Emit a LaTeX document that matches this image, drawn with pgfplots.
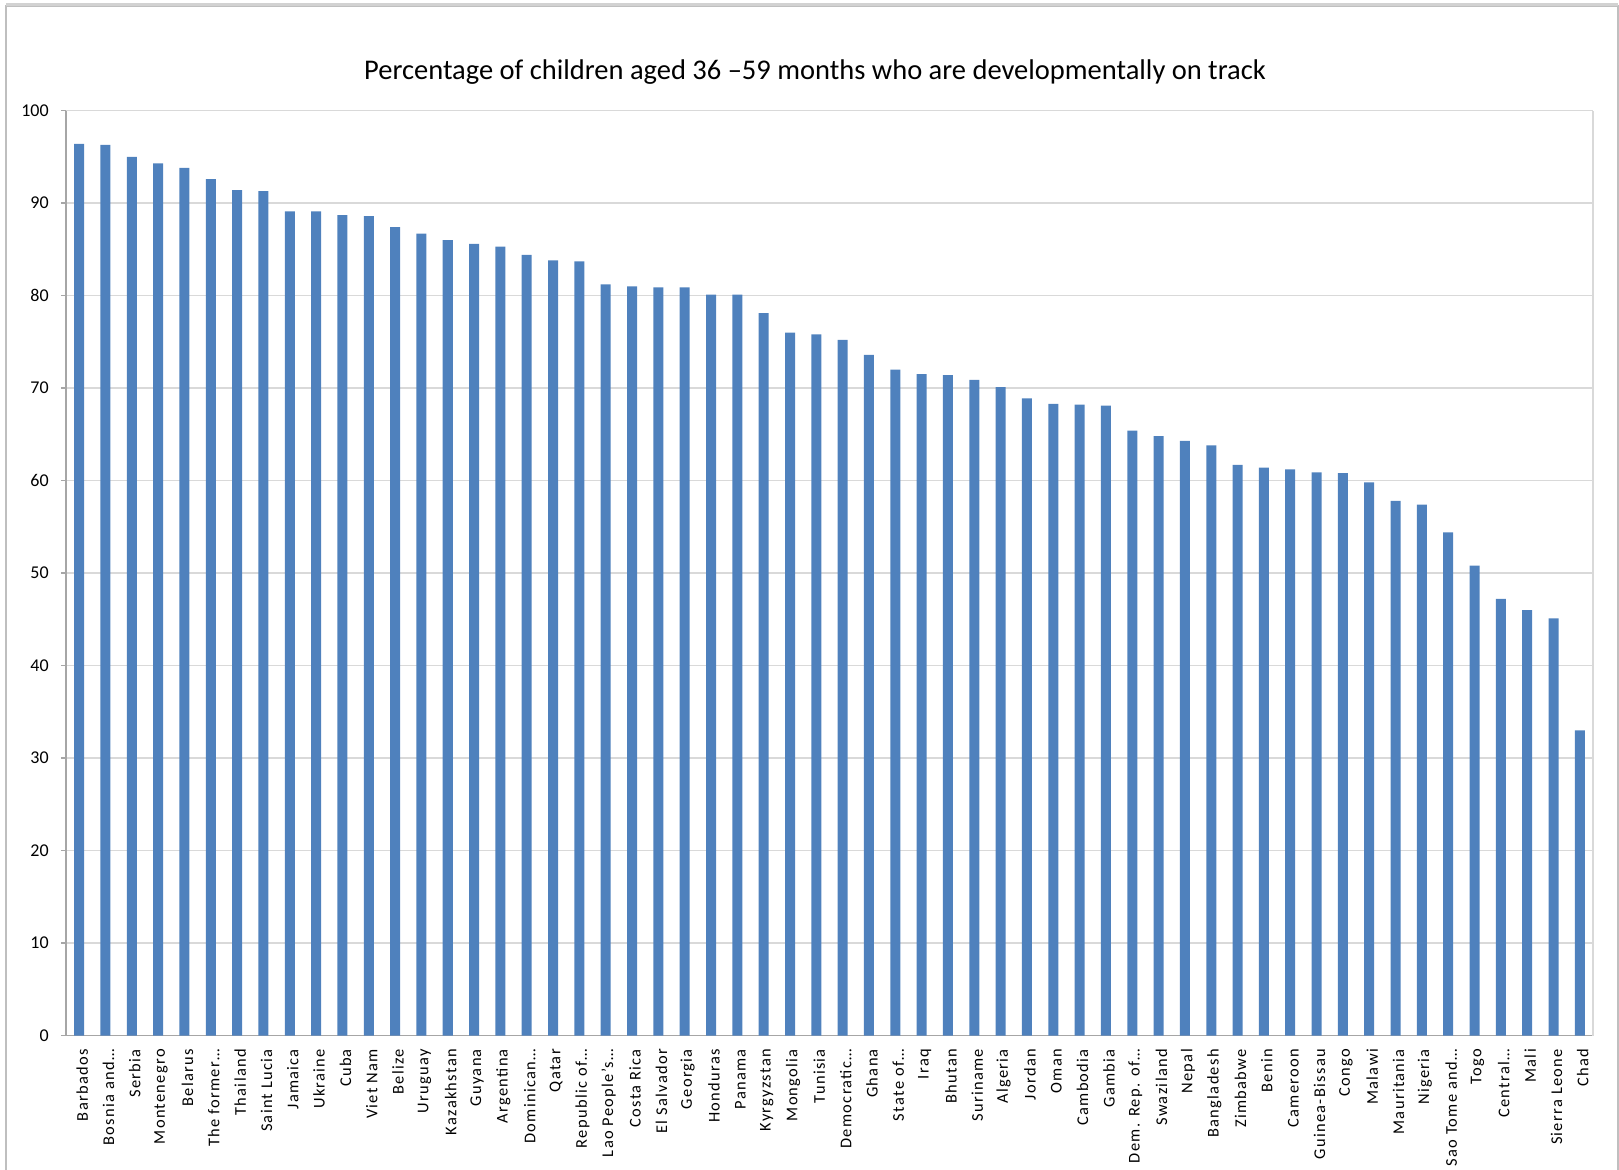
\documentclass[border=0pt]{standalone}
\usepackage{pgfplots}
\pgfplotsset{compat=1.18}
\usepackage{fontspec}
\setmainfont{Carlito}
\newfontfamily\catfont{Carlito}[LetterSpace=8]
\definecolor{barblue}{HTML}{4F81BD}
\definecolor{gridgray}{HTML}{D9D9D9}
\definecolor{axisgray}{HTML}{A6A6A6}
\definecolor{framegray}{HTML}{BFBFBF}
\begin{document}
\begin{tikzpicture}
\begin{scope}[x=0.5pt,y=0.5pt]
\useasboundingbox (0,0) rectangle (1619,1170);
\draw[framegray, line width=0.6pt] (6,-20) -- (6,1164) -- (1618,1164) -- (1618,-20);
\draw[gray!35, line width=1.2pt] (6,1165.5) -- (1618,1165.5);
\node[font=\fontsize{14.25}{16}\selectfont, anchor=base] at (815,1090) {Percentage of children aged 36 \textendash 59 months who are developmentally on track};
\end{scope}
\begin{axis}[
  at={(33pt,67.2pt)}, anchor=south west,
  scale only axis,
  width=763.5pt, height=462.5pt,
  xmin=-0.5, xmax=57.5, ymin=0, ymax=100,
  axis lines=left, axis line style={-, axisgray, line width=0.6pt},
  ytick={0,10,...,100},
  ymajorgrids, grid style={gridgray, line width=0.6pt},
  tick align=outside,
  y tick style={axisgray, line width=0.6pt},
  major tick length=2.6pt,
  xtick={0,...,57},
  x tick style={draw=none},
  minor xtick={-0.5,0.5,...,57.5},
  minor x tick style={axisgray, line width=0.6pt},
  minor tick length=3pt,
  xmajorgrids=false, xminorgrids=false,
  /pgf/number format/assume math mode=true,
  yticklabel style={font=\fontsize{9}{10}\selectfont, color=black, xshift=-2.5pt},
  xticklabel style={font=\catfont\fontsize{8.2}{9}\selectfont, rotate=90, anchor=east, xshift=-4pt, yshift=-1.5pt, inner sep=0pt},
  xticklabels={Barbados,Bosnia and…,Serbia,Montenegro,Belarus,The former…,Thailand,Saint Lucia,Jamaica,Ukraine,Cuba,Viet Nam,Belize,Uruguay,Kazakhstan,Guyana,Argentina,Dominican…,Qatar,Republic of…,Lao People’s…,Costa Rica,El Salvador,Georgia,Honduras,Panama,Kyrgyzstan,Mongolia,Tunisia,Democratic…,Ghana,State of…,Iraq,Bhutan,Suriname,Algeria,Jordan,Oman,Cambodia,Gambia,Dem. Rep. of…,Swaziland,Nepal,Bangladesh,Zimbabwe,Benin,Cameroon,Guinea-Bissau,Congo,Malawi,Mauritania,Nigeria,Sao Tome and…,Togo,Central…,Mali,Sierra Leone,Chad},
  clip=false,
]
\addplot[ybar, bar width=0.38, fill=barblue, draw=none] coordinates {
(0,96.4) (1,96.3) (2,95.0) (3,94.3) (4,93.8) (5,92.6) (6,91.4) (7,91.3) (8,89.1) (9,89.1)
(10,88.7) (11,88.6) (12,87.4) (13,86.7) (14,86.0) (15,85.6) (16,85.3) (17,84.4) (18,83.8) (19,83.7)
(20,81.2) (21,81.0) (22,80.9) (23,80.9) (24,80.1) (25,80.1) (26,78.1) (27,76.0) (28,75.8) (29,75.2)
(30,73.6) (31,72.0) (32,71.5) (33,71.4) (34,70.9) (35,70.1) (36,68.9) (37,68.3) (38,68.2) (39,68.1)
(40,65.4) (41,64.8) (42,64.3) (43,63.8) (44,61.7) (45,61.4) (46,61.2) (47,60.9) (48,60.8) (49,59.8)
(50,57.8) (51,57.4) (52,54.4) (53,50.8) (54,47.2) (55,46.0) (56,45.1) (57,33.0)
};
\draw[gridgray, line width=0.6pt] (rel axis cs:1,0) -- (rel axis cs:1,1);
\end{axis}
\end{tikzpicture}
\end{document}
